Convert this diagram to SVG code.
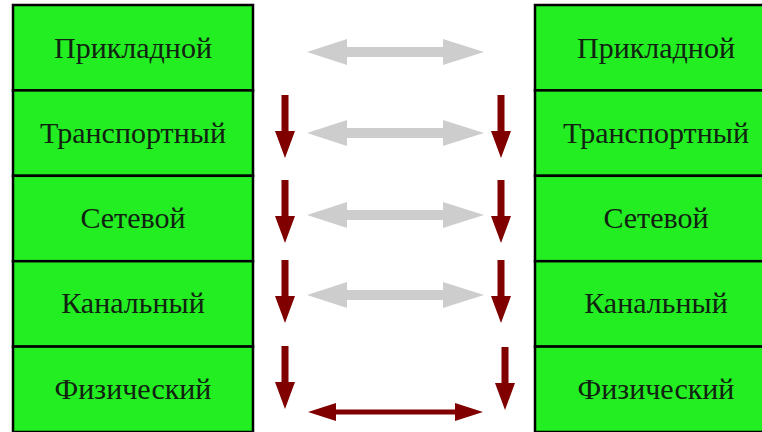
<svg xmlns="http://www.w3.org/2000/svg" width="762" height="432" viewBox="0 0 762 432">
<defs>
<style>
.box{fill:#22ee22;stroke:#000;stroke-width:2.5}
.lbl{font-family:"Liberation Serif","Times New Roman",serif;font-size:30px;fill:#112211;text-anchor:middle}
.gray{fill:#cdcdcd}
.red{fill:#800000}
</style>
<polygon id="garrow" class="gray" points="0,0 40,-13 40,-5 136,-5 136,-13 177,0 136,13 136,5 40,5 40,13"/>
<polygon id="down" class="red" points="-3.5,0 3.5,0 3.5,36 10,36 0,63 -10,36 -3.5,36"/>
</defs>
<rect width="762" height="432" fill="#fff"/>
<g id="left-prikladnoy"><rect class="box" x="13" y="5" width="240" height="85.4"/><text class="lbl" x="133" y="58">Прикладной</text></g>
<g id="left-transportny"><rect class="box" x="13" y="90.4" width="240" height="85.4"/><text class="lbl" x="133" y="143">Транспортный</text></g>
<g id="left-setevoy"><rect class="box" x="13" y="175.8" width="240" height="85.4"/><text class="lbl" x="133" y="228">Сетевой</text></g>
<g id="left-kanalny"><rect class="box" x="13" y="261.2" width="240" height="85.4"/><text class="lbl" x="133" y="313">Канальный</text></g>
<g id="left-fizichesky"><rect class="box" x="13" y="346.6" width="240" height="85.4"/><text class="lbl" x="133" y="399">Физический</text></g>
<g id="right-prikladnoy"><rect class="box" x="535" y="5" width="242" height="85.4"/><text class="lbl" x="656" y="58">Прикладной</text></g>
<g id="right-transportny"><rect class="box" x="535" y="90.4" width="242" height="85.4"/><text class="lbl" x="656" y="143">Транспортный</text></g>
<g id="right-setevoy"><rect class="box" x="535" y="175.8" width="242" height="85.4"/><text class="lbl" x="656" y="228">Сетевой</text></g>
<g id="right-kanalny"><rect class="box" x="535" y="261.2" width="242" height="85.4"/><text class="lbl" x="656" y="313">Канальный</text></g>
<g id="right-fizichesky"><rect class="box" x="535" y="346.6" width="242" height="85.4"/><text class="lbl" x="656" y="399">Физический</text></g>
<g id="connectors">
<use href="#garrow" x="307" y="52"/>
<use href="#garrow" x="307" y="133"/>
<use href="#garrow" x="307" y="215"/>
<use href="#garrow" x="307" y="295"/>
<use href="#down" x="285" y="95"/>
<use href="#down" x="501" y="95"/>
<use href="#down" x="285" y="180"/>
<use href="#down" x="501" y="180"/>
<use href="#down" x="285" y="260"/>
<use href="#down" x="501" y="260"/>
<use href="#down" x="285" y="346"/>
<use href="#down" x="505" y="347"/>
<polygon class="red" points="308,412 336,403 336,409.5 455,409.5 455,403 483,412 455,421 455,414.5 336,414.5 336,421"/>
</g>
</svg>
